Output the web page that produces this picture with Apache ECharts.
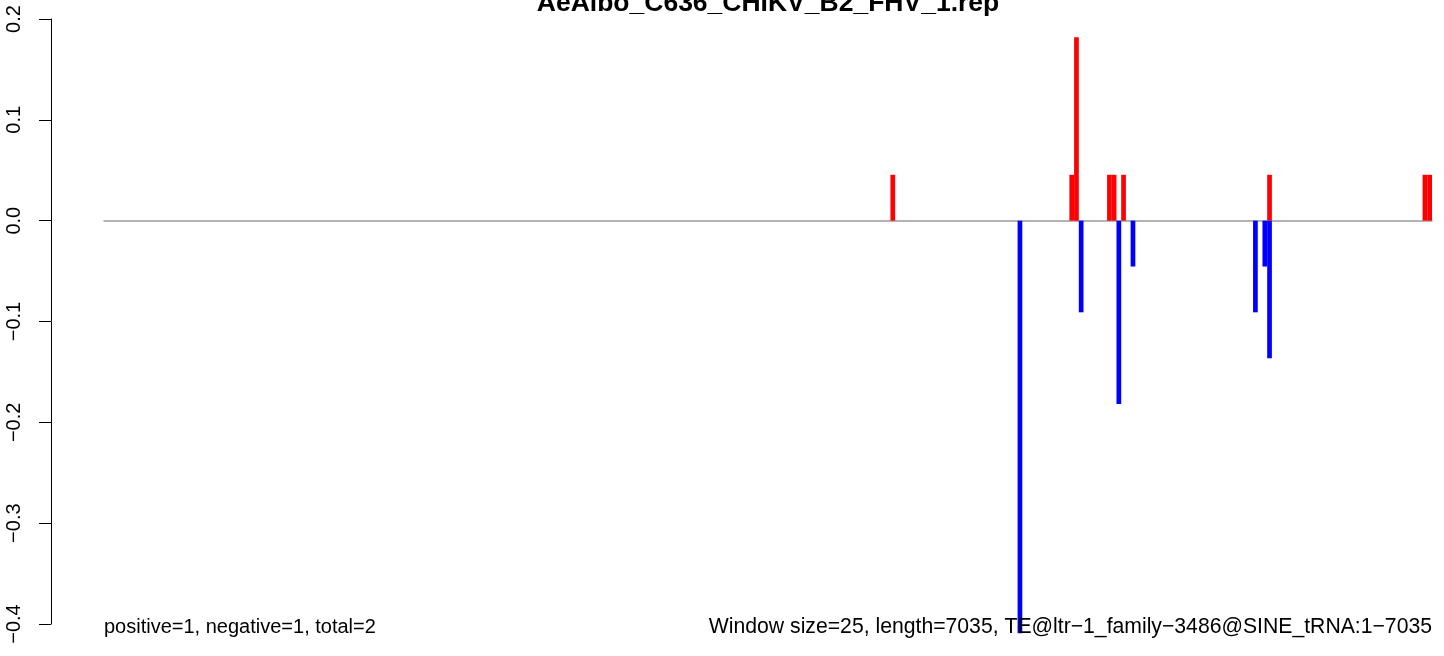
<!DOCTYPE html>
<html>
<head>
<meta charset="utf-8">
<script src="https://cdn.jsdelivr.net/npm/echarts@6/dist/echarts.min.js"></script>
<style>html,body{margin:0;padding:0;background:#fff;}#c{width:1444px;height:656px;}</style>
</head>
<body>
<div id="c"></div>
<script>
// ---- data ----
const titleText = 'AeAlbo_C636_CHIKV_B2_FHV_1.rep';
const leftNote = 'positive=1, negative=1, total=2';
const rightNote = 'Window size=25, length=7035, TE@ltr\u22121_family\u22123486@SINE_tRNA:1\u22127035';
const windowSize = 25;
const seqLength = 7035;
const nWindows = 282;
// positive (red) windows: index and value
const posIdx = [167, 205, 206, 213, 214, 216, 247, 280, 281];
const posVal = [0.0455, 0.0455, 0.1818, 0.0455, 0.0455, 0.0455, 0.0455, 0.0455, 0.0455];
// negative (blue) windows: index and value
const negIdx = [194, 207, 215, 218, 244, 246, 247];
const negVal = [-0.4091, -0.0909, -0.1818, -0.0455, -0.0909, -0.0455, -0.1364];
const yTicks = [-0.4, -0.3, -0.2, -0.1, 0.0, 0.1, 0.2];

// ---- build ----
const categories = [];
for (let i = 0; i < nWindows; i++) categories.push(String(i * windowSize + 1));
const posData = new Array(nWindows).fill(null);
posIdx.forEach((k, j) => { posData[k] = posVal[j]; });
const negData = new Array(nWindows).fill(null);
negIdx.forEach((k, j) => { negData[k] = negVal[j]; });

const FONT = 'Liberation Sans, Arial, Helvetica, sans-serif';
const chart = echarts.init(document.getElementById('c'), null, {renderer: 'canvas'});
chart.setOption({
  animation: false,
  backgroundColor: '#ffffff',
  grid: {left: 104, right: 12, top: 19, bottom: 32, containLabel: false},
  xAxis: {
    type: 'category',
    data: categories,
    boundaryGap: true,
    axisLine: {show: true, onZero: true, lineStyle: {color: '#9a9a9a', width: 1.5}},
    axisTick: {show: false},
    axisLabel: {show: false},
    splitLine: {show: false}
  },
  yAxis: {
    type: 'value',
    min: yTicks[0],
    max: yTicks[yTicks.length - 1],
    interval: 0.1,
    offset: 53,
    axisLine: {show: true, lineStyle: {color: '#000', width: 1}},
    axisTick: {show: true, length: 12, lineStyle: {color: '#000', width: 1}},
    splitLine: {show: false},
    axisLabel: {
      rotate: 90,
      margin: 27,
      color: '#000',
      fontSize: 20,
      fontFamily: FONT,
      formatter: v => (v < -1e-9 ? '\u2212' : '') + Math.abs(v).toFixed(1)
    }
  },
  series: [
    {
      type: 'bar', name: 'pos', data: posData,
      barCategoryGap: '0%', barGap: '-100%',
      itemStyle: {color: '#ff0000'}, clip: false, z: 2
    },
    {
      type: 'bar', name: 'neg', data: negData,
      barCategoryGap: '0%', barGap: '-100%',
      itemStyle: {color: '#0000ff'}, clip: false, z: 2
    }
  ],
  graphic: [
    {type: 'text', z: 10, position: [768, 3.5], style: {
      text: titleText, fill: '#000', font: 'bold 26.5px ' + FONT,
      textAlign: 'center', textVerticalAlign: 'middle'}},
    {type: 'text', z: 10, position: [104, 627], style: {
      text: leftNote, fill: '#000', font: '20px ' + FONT,
      textAlign: 'left', textVerticalAlign: 'middle'}},
    {type: 'text', z: 10, position: [1432, 627], style: {
      text: rightNote, fill: '#000', font: '21.2px ' + FONT,
      textAlign: 'right', textVerticalAlign: 'middle'}}
  ]
});
</script>
</body>
</html>
